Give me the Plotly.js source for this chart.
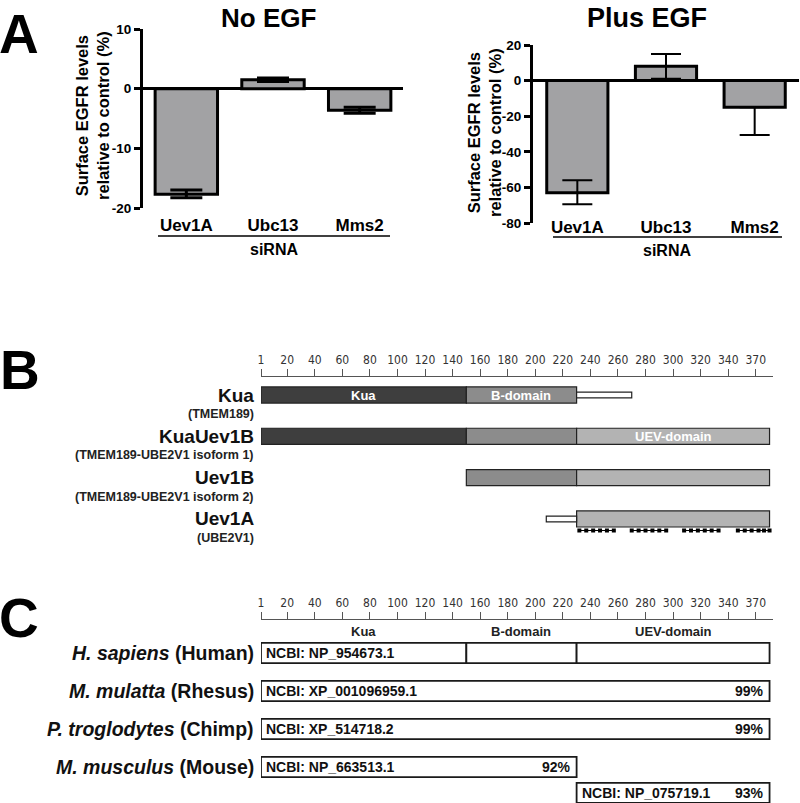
<!DOCTYPE html>
<html>
<head>
<meta charset="utf-8">
<script src="https://cdn.plot.ly/plotly-3.0.1.min.js"></script>
<style>html,body{margin:0;padding:0;background:#fff;}#chart{width:800px;height:803px;}</style>
</head>
<body>
<div id="chart"></div>
<script>
// ---------- Panel A data ----------
const catsA = ['Uev1A', 'Ubc13', 'Mms2'];
const noEGF = [-17.7, 1.5, -3.6];
const noEGFErrPlus = [0.7, 0.3, 0.5];
const noEGFErrMinus = [0.6, 0.3, 0.5];
const plusEGF = [-63, 8, -15];
const plusEGFErrPlus = [7, 7, 0];
const plusEGFErrMinus = [6.5, 7, 15.5];
const ticksNoEGF = [-20, -10, 0, 10];
const ticksPlusEGF = [-80, -60, -40, -20, 0, 20];
const yTitleText = ['Surface EGFR levels', 'relative to control (%)'];

// ---------- Panel B data (amino-acid positions) ----------
const proteinsB = ['Kua', 'KuaUev1B', 'Uev1B', 'Uev1A'];
const subNamesB = ['(TMEM189)', '(TMEM189-UBE2V1 isoform 1)', '(TMEM189-UBE2V1 isoform 2)', '(UBE2V1)'];
const kuaStart = [1, 1, null, null];
const kuaEnd = [150, 150, null, null];
const bdomStart = [150, 150, 150, null];
const bdomEnd = [230, 230, 230, null];
const uevStart = [null, 230, 230, 230];
const uevEnd = [null, 370, 370, 370];
const tailStart = [230, null, null, 208];
const tailEnd = [270, null, null, 230];
const motifX = [232, 237, 242, 247, 252, 257, null,
                270, 275, 280, 285, 290, 295, null,
                308, 313, 318, 323, 328, 333, null,
                347, 352, 357, 362, 366, 370];
const scaleTickVals = [1, 20, 40, 60, 80, 100, 120, 140, 160, 180, 200, 220, 240, 260, 280, 300, 320, 340, 360];
const scaleTickText = ['1', '20', '40', '60', '80', '100', '120', '140', '160', '180', '200', '220', '240', '260', '280', '300', '320', '340', '370'];

// ---------- Panel C data ----------
const speciesItalic = ['H. sapiens', 'M. mulatta', 'P. troglodytes', 'M. musculus'];
const speciesCommon = ['(Human)', '(Rhesus)', '(Chimp)', '(Mouse)'];
const boxRow = [0, 0, 0, 1, 2, 3, 3.68];
const boxStart = [1, 150, 230, 1, 1, 1, 230];
const boxEnd = [150, 230, 370, 370, 370, 230, 370];
const ncbiRow = [0, 1, 2, 3, 3.68];
const ncbiIds = ['NCBI: NP_954673.1', 'NCBI: XP_001096959.1', 'NCBI: XP_514718.2', 'NCBI: NP_663513.1', 'NCBI: NP_075719.1'];
const ncbiStart = [1, 1, 1, 1, 230];
const ncbiEnd = [370, 370, 370, 230, 370];
const identity = ['', '99%', '99%', '92%', '93%'];
const domainNames = ['Kua', 'B-domain', 'UEV-domain'];
const domainStart = [1, 150, 230];
const domainEnd = [150, 230, 370];

// ---------- helpers ----------
const W = 800, H = 803;
const px = v => v / W;
const py = v => 1 - v / H;
function segs(starts, ends) {
  const rows = [], base = [], len = [];
  starts.forEach((s, i) => {
    if (s !== null && ends[i] !== null) { rows.push(i); base.push(s); len.push(ends[i] - s); }
  });
  return {rows, base, len};
}
const sans = 'Liberation Sans, Arial, sans-serif';
const narrow = 'Liberation Sans Narrow, Arial Narrow, DejaVu Sans Condensed, sans-serif';

const traces = [];

// Panel A bars
traces.push({
  type: 'bar', x: catsA, y: noEGF, xaxis: 'x', yaxis: 'y', width: 0.72,
  marker: {color: '#a2a2a4', line: {color: '#000', width: 3}},
  error_y: {type: 'data', symmetric: false, array: noEGFErrPlus, arrayminus: noEGFErrMinus,
            color: '#000', thickness: 3, width: 16},
  hoverinfo: 'skip'
});
traces.push({
  type: 'bar', x: catsA, y: plusEGF, xaxis: 'x2', yaxis: 'y2', width: 0.69,
  marker: {color: '#a2a2a4', line: {color: '#000', width: 3}},
  error_y: {type: 'data', symmetric: false, array: plusEGFErrPlus, arrayminus: plusEGFErrMinus,
            color: '#000', thickness: 2, width: 15},
  hoverinfo: 'skip'
});

// Panel B bars
const bSeg = (starts, ends, color, width, lineW) => {
  const s = segs(starts, ends);
  return {type: 'bar', orientation: 'h', xaxis: 'x3', yaxis: 'y3', y: s.rows, x: s.len, base: s.base,
          width: width, marker: {color: color, line: {color: '#222', width: lineW}}, hoverinfo: 'skip'};
};
traces.push(bSeg(kuaStart, kuaEnd, '#3e3e3e', 0.39, 1.2));
traces.push(bSeg(bdomStart, bdomEnd, '#8c8c8c', 0.39, 1.2));
traces.push(bSeg(uevStart, uevEnd, '#b3b3b3', 0.39, 1.2));
traces.push(bSeg(tailStart, tailEnd, '#ffffff', 0.14, 1.2));
traces.push({
  type: 'scatter', mode: 'lines+markers', xaxis: 'x3', yaxis: 'y3',
  x: motifX, y: motifX.map(v => v === null ? null : 3.28), connectgaps: false,
  marker: {symbol: 'square', size: 4, color: '#000'}, line: {color: '#000', width: 1},
  hoverinfo: 'skip'
});

// Panel C boxes
traces.push({
  type: 'bar', orientation: 'h', xaxis: 'x4', yaxis: 'y4', y: boxRow,
  x: boxEnd.map((e, i) => e - boxStart[i]), base: boxStart, width: 0.53,
  marker: {color: '#ffffff', line: {color: '#1a1a1a', width: 1.8}}, hoverinfo: 'skip'
});

// ---------- annotations ----------
const ann = [];
const big = (t, x, y) => ann.push({text: '<b>' + t + '</b>', xref: 'paper', yref: 'paper', x: px(x), y: py(y),
  xanchor: 'left', yanchor: 'middle', showarrow: false, font: {family: sans, size: 55, color: '#000'}});
big('A', -3, 34); big('B', -2, 370); big('C', -3, 618);

const plainAnn = (text, x, y, size, extra) => ann.push(Object.assign({text: text, xref: 'paper', yref: 'paper',
  x: px(x), y: py(y), xanchor: 'center', yanchor: 'middle', showarrow: false,
  font: {family: sans, size: size, color: '#000'}}, extra || {}));
plainAnn('<b>No EGF</b>', 268, 18, 26);
plainAnn('<b>Plus EGF</b>', 647, 18, 27);
plainAnn('<b>siRNA</b>', 274, 249, 16);
plainAnn('<b>siRNA</b>', 667, 250, 16);
plainAnn('<b>' + yTitleText.join('<br>') + '</b>', 92, 116, 16.5, {textangle: -90});
plainAnn('<b>' + yTitleText.join('<br>') + '</b>', 484, 133, 16.5, {textangle: -90});

// Panel B labels
proteinsB.forEach((p, i) => {
  ann.push({text: '<b>' + p + '</b>', xref: 'paper', yref: 'y3', x: px(256), y: i, xanchor: 'right',
    yanchor: 'middle', showarrow: false, font: {family: sans, size: 19, color: '#111'}});
  ann.push({text: '<b>' + subNamesB[i] + '</b>', xref: 'paper', yref: 'y3', x: px(256), y: i, yshift: -19,
    xanchor: 'right', yanchor: 'middle', showarrow: false, font: {family: sans, size: 12.5, color: '#222'}});
});
ann.push({text: '<b>Kua</b>', xref: 'x3', yref: 'y3', x: (kuaStart[0] + kuaEnd[0]) / 2, y: 0, showarrow: false,
  font: {family: sans, size: 13, color: '#fff'}});
ann.push({text: '<b>B-domain</b>', xref: 'x3', yref: 'y3', x: (bdomStart[0] + bdomEnd[0]) / 2, y: 0, showarrow: false,
  font: {family: sans, size: 13, color: '#fff'}});
ann.push({text: '<b>UEV-domain</b>', xref: 'x3', yref: 'y3', x: (uevStart[1] + uevEnd[1]) / 2, y: 1, showarrow: false,
  font: {family: sans, size: 13, color: '#fff'}});

// Panel C labels
speciesItalic.forEach((s, i) => {
  ann.push({text: '<b><i>' + s + '</i> ' + speciesCommon[i] + '</b>', xref: 'paper', yref: 'y4', x: px(256), y: i,
    xanchor: 'right', yanchor: 'middle', showarrow: false, font: {family: sans, size: 19.5, color: '#111'}});
});
domainNames.forEach((d, i) => {
  ann.push({text: '<b>' + d + '</b>', xref: 'x4', yref: 'y4', x: (domainStart[i] + domainEnd[i]) / 2, y: 0, yshift: 21,
    showarrow: false, font: {family: sans, size: 13, color: '#222'}});
});
ncbiIds.forEach((t, i) => {
  ann.push({text: '<b>' + t + '</b>', xref: 'x4', yref: 'y4', x: ncbiStart[i], y: ncbiRow[i], xshift: 3,
    xanchor: 'left', yanchor: 'middle', showarrow: false, font: {family: sans, size: 14, color: '#111'}});
  if (identity[i]) ann.push({text: '<b>' + identity[i] + '</b>', xref: 'x4', yref: 'y4', x: ncbiEnd[i], y: ncbiRow[i],
    xshift: -4, xanchor: 'right', yanchor: 'middle', showarrow: false, font: {family: sans, size: 14, color: '#111'}});
});

const shapes = [
  {type: 'line', xref: 'paper', yref: 'paper', x0: px(158), x1: px(390), y0: py(236), y1: py(236), line: {color: '#000', width: 1.5}},
  {type: 'line', xref: 'paper', yref: 'paper', x0: px(553), x1: px(782), y0: py(237), y1: py(237), line: {color: '#000', width: 1.5}}
];

const scaleAxis = () => ({
  domain: [px(261), px(773)], range: [1, 372.5], side: 'top', showline: true, linecolor: '#555', linewidth: 1,
  ticks: 'outside', ticklen: 7, tickwidth: 1, tickcolor: '#555', tickvals: scaleTickVals, ticktext: scaleTickText,
  tickfont: {family: narrow, size: 12, color: '#333'}, showgrid: false, zeroline: false, fixedrange: true
});
const valueAxis = (domain, anchor, range, ticks) => ({
  domain: domain, anchor: anchor, range: range, tickvals: ticks, ticktext: ticks.map(String),
  showline: true, linecolor: '#000', linewidth: 3, ticks: 'outside', ticklen: 6, tickwidth: 3, tickcolor: '#000',
  zeroline: true, zerolinecolor: '#000', zerolinewidth: 3, showgrid: false,
  tickfont: {family: sans, size: 13.5, color: '#000', weight: 'bold'}
});
const catAxis = (domain, anchor, standoff) => ({
  domain: domain, anchor: anchor, type: 'category', range: [-0.5, 2.5], showline: false, ticks: '',
  tickfont: {family: sans, size: 17, color: '#000', weight: 'bold'}, ticklabelstandoff: standoff,
  showgrid: false, zeroline: false
});

const layout = {
  width: W, height: H, margin: {l: 0, r: 0, t: 0, b: 0}, paper_bgcolor: '#fff', plot_bgcolor: 'rgba(0,0,0,0)',
  showlegend: false, barmode: 'overlay', font: {family: sans, color: '#000'},
  xaxis: catAxis([px(143), px(403)], 'y', 5),
  yaxis: valueAxis([py(208), py(29)], 'x', [-20, 10], ticksNoEGF),
  xaxis2: catAxis([px(533), px(799)], 'y2', -8),
  yaxis2: valueAxis([py(223), py(45)], 'x2', [-80, 20], ticksPlusEGF),
  xaxis3: Object.assign(scaleAxis(), {anchor: 'y3'}),
  yaxis3: {domain: [py(540), py(377)], anchor: 'x3', range: [3.51, -0.436], visible: false, showgrid: false, zeroline: false},
  xaxis4: Object.assign(scaleAxis(), {anchor: 'y4'}),
  yaxis4: {domain: [0, py(620)], anchor: 'x4', range: [3.947, -0.868], visible: false, showgrid: false, zeroline: false},
  annotations: ann, shapes: shapes
};

Plotly.newPlot('chart', traces, layout, {staticPlot: true, displayModeBar: false});
</script>
</body>
</html>
